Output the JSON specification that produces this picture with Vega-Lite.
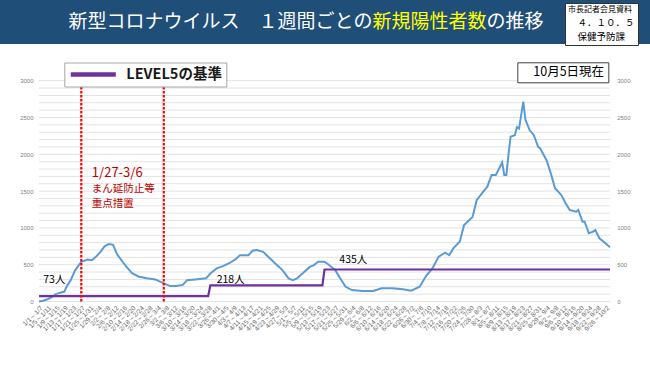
{
  "$schema": "https://vega.github.io/schema/vega-lite/v6.json",
  "padding": 0,
  "background": "white",
  "config": {"font": "Noto Sans CJK JP", "view": {"stroke": null}},
  "columns": 1,
  "align": "none",
  "spacing": 0,
  "concat": [
    {
      "width": 650,
      "height": 44,
      "view": {"fill": "#1F4E79", "stroke": null},
      "layer": [
        {
          "data": {"values": [{"t": "\u200b新型コロナウイルス　１週間ごとの　　　　　　の推移\u200b"}]},
          "mark": {"type": "text", "color": "white", "fontSize": 19, "font": "Noto Sans CJK JP", "baseline": "middle", "align": "center", "dx": -19},
          "encoding": {"text": {"field": "t"}}
        },
        {
          "data": {"values": [{"t": "\u200b　　　　　　　　　　　　　　　　新規陽性者数　　　\u200b"}]},
          "mark": {"type": "text", "color": "#FFFF00", "fontSize": 19, "font": "Noto Sans CJK JP", "baseline": "middle", "align": "center", "dx": -19},
          "encoding": {"text": {"field": "t"}}
        },
        {
          "data": {"values": [{"k": "４．１０．５"}, {"k": "保健予防課"}]},
          "mark": {"type": "point", "opacity": 0},
          "encoding": {
            "shape": {
              "field": "k", "type": "nominal",
              "scale": {"domain": ["４．１０．５", "保健予防課"]},
              "legend": {
                "orient": "none", "legendX": 565, "legendY": 3, "zindex": 1,
                "title": "市長記者会見資料", "titleFontSize": 8, "titleFontWeight": "normal", "titleColor": "#000", "titlePadding": 4,
                "labelFontSize": 9.5, "labelColor": "#000", "labelOffset": 0, "rowPadding": 3,
                "symbolSize": 0, "symbolOpacity": 0, "symbolStrokeWidth": 0,
                "padding": 3, "fillColor": "white", "strokeColor": "#333333"
              }
            }
          }
        }
      ]
    },
    {
      "width": 650,
      "height": 321,
      "resolve": {"scale": {"y": "shared", "color": "independent"}, "axis": {"y": "independent"}, "legend": {"color": "independent"}},
      "layer": [
        {
          "data": {"values": [
            {"g":0},{"g":100},{"g":200},{"g":300},{"g":400},{"g":500},{"g":600},{"g":700},{"g":800},{"g":900},{"g":1000},
            {"g":1100},{"g":1200},{"g":1300},{"g":1400},{"g":1500},{"g":1600},{"g":1700},{"g":1800},{"g":1900},{"g":2000},
            {"g":2100},{"g":2200},{"g":2300},{"g":2400},{"g":2500},{"g":2600},{"g":2700},{"g":2800},{"g":2900},{"g":3000}
          ]},
          "mark": {"type": "rule", "color": "#E3E3E3", "strokeWidth": 1},
          "encoding": {
            "y": {"field": "g", "type": "quantitative", "axis": null},
            "x": {"datum": {"year": 2022, "month": 1, "date": 1, "utc": true}, "type": "temporal"},
            "x2": {"datum": {"year": 2022, "month": 9, "date": 28, "utc": true}}
          }
        },
        {
          "data": {"values": [
            {"date":"2022-01-01","cases":0},{"date":"2022-01-03","cases":10},{"date":"2022-01-05","cases":30},{"date":"2022-01-07","cases":60},
            {"date":"2022-01-09","cases":100},{"date":"2022-01-11","cases":120},{"date":"2022-01-13","cases":135},{"date":"2022-01-14","cases":200},
            {"date":"2022-01-16","cases":290},{"date":"2022-01-18","cases":420},{"date":"2022-01-20","cases":500},{"date":"2022-01-21","cases":540},
            {"date":"2022-01-24","cases":570},{"date":"2022-01-26","cases":560},{"date":"2022-01-28","cases":610},{"date":"2022-01-30","cases":670},
            {"date":"2022-02-01","cases":750},{"date":"2022-02-03","cases":780},{"date":"2022-02-05","cases":770},{"date":"2022-02-07","cases":640},
            {"date":"2022-02-10","cases":520},{"date":"2022-02-12","cases":450},{"date":"2022-02-14","cases":385},{"date":"2022-02-17","cases":340},
            {"date":"2022-02-21","cases":315},{"date":"2022-02-25","cases":300},{"date":"2022-02-28","cases":260},{"date":"2022-03-04","cases":210},
            {"date":"2022-03-07","cases":210},{"date":"2022-03-10","cases":225},{"date":"2022-03-12","cases":290},{"date":"2022-03-16","cases":300},
            {"date":"2022-03-21","cases":315},{"date":"2022-03-23","cases":380},{"date":"2022-03-26","cases":450},{"date":"2022-03-29","cases":480},
            {"date":"2022-04-01","cases":520},{"date":"2022-04-04","cases":575},{"date":"2022-04-06","cases":630},{"date":"2022-04-10","cases":630},
            {"date":"2022-04-12","cases":690},{"date":"2022-04-14","cases":700},{"date":"2022-04-17","cases":675},{"date":"2022-04-20","cases":590},
            {"date":"2022-04-23","cases":510},{"date":"2022-04-26","cases":430},{"date":"2022-04-29","cases":315},{"date":"2022-05-01","cases":290},
            {"date":"2022-05-03","cases":315},{"date":"2022-05-06","cases":390},{"date":"2022-05-09","cases":470},{"date":"2022-05-11","cases":495},
            {"date":"2022-05-13","cases":540},{"date":"2022-05-16","cases":540},{"date":"2022-05-18","cases":500},{"date":"2022-05-21","cases":430},
            {"date":"2022-05-24","cases":290},{"date":"2022-05-26","cases":200},{"date":"2022-05-29","cases":155},{"date":"2022-06-03","cases":143},
            {"date":"2022-06-08","cases":143},{"date":"2022-06-12","cases":180},{"date":"2022-06-17","cases":180},{"date":"2022-06-22","cases":165},
            {"date":"2022-06-26","cases":147},{"date":"2022-06-30","cases":200},{"date":"2022-07-03","cases":345},{"date":"2022-07-06","cases":450},
            {"date":"2022-07-09","cases":610},{"date":"2022-07-12","cases":665},{"date":"2022-07-14","cases":630},{"date":"2022-07-16","cases":725},
            {"date":"2022-07-19","cases":815},{"date":"2022-07-21","cases":1040},{"date":"2022-07-25","cases":1150},{"date":"2022-07-27","cases":1380},
            {"date":"2022-07-30","cases":1490},{"date":"2022-08-01","cases":1560},{"date":"2022-08-03","cases":1720},{"date":"2022-08-05","cases":1720},
            {"date":"2022-08-07","cases":1830},{"date":"2022-08-08","cases":1890},{"date":"2022-08-09","cases":1720},{"date":"2022-08-10","cases":1720},
            {"date":"2022-08-11","cases":2000},{"date":"2022-08-12","cases":2240},{"date":"2022-08-14","cases":2260},{"date":"2022-08-15","cases":2370},
            {"date":"2022-08-16","cases":2350},{"date":"2022-08-18","cases":2715},{"date":"2022-08-19","cases":2470},{"date":"2022-08-21","cases":2330},
            {"date":"2022-08-23","cases":2260},{"date":"2022-08-25","cases":2100},{"date":"2022-08-26","cases":2080},{"date":"2022-08-29","cases":1920},
            {"date":"2022-08-31","cases":1742},{"date":"2022-09-02","cases":1538},{"date":"2022-09-05","cases":1447},{"date":"2022-09-07","cases":1334},
            {"date":"2022-09-09","cases":1243},{"date":"2022-09-12","cases":1220},{"date":"2022-09-13","cases":1243},{"date":"2022-09-15","cases":1084},
            {"date":"2022-09-16","cases":1084},{"date":"2022-09-18","cases":927},{"date":"2022-09-20","cases":950},{"date":"2022-09-21","cases":972},
            {"date":"2022-09-23","cases":859},{"date":"2022-09-25","cases":813},{"date":"2022-09-28","cases":736}
          ]},
          "mark": {"type": "line", "color": "#5B9BD5", "strokeWidth": 2},
          "encoding": {
            "x": {
              "field": "date", "type": "temporal",
              "scale": {"type": "utc", "domain": [1640995200000, 1664323200000], "range": [39, 610]},
              "axis": {
                "title": null, "grid": false, "ticks": false, "domain": false, "offset": -63.5, "tickCount": 200,
                "values": [1640995200000,1641340800000,1641686400000,1642032000000,1642377600000,1642723200000,1643068800000,1643414400000,1643760000000,1644105600000,1644451200000,1644796800000,1645142400000,1645488000000,1645833600000,1646179200000,1646524800000,1646870400000,1647216000000,1647561600000,1647907200000,1648252800000,1648598400000,1648944000000,1649289600000,1649635200000,1649980800000,1650326400000,1650672000000,1651017600000,1651363200000,1651708800000,1652054400000,1652400000000,1652745600000,1653091200000,1653436800000,1653782400000,1654128000000,1654473600000,1654819200000,1655164800000,1655510400000,1655856000000,1656201600000,1656547200000,1656892800000,1657238400000,1657584000000,1657929600000,1658275200000,1658620800000,1658966400000,1659312000000,1659657600000,1660003200000,1660348800000,1660694400000,1661040000000,1661385600000,1661731200000,1662076800000,1662422400000,1662768000000,1663113600000,1663459200000,1663804800000,1664150400000],
                "labelExpr": "utcFormat(datum.value, '%-m/%-d') + '～' + utcFormat((+datum.value) + 518400000, '%-m/%-d')",
                "labelAngle": -45, "labelFontSize": 6.5, "labelColor": "#666666", "labelFont": "Liberation Sans",
                "labelOverlap": false, "labelFlush": false, "labelPadding": 3
              }
            },
            "y": {
              "field": "cases", "type": "quantitative",
              "scale": {"domain": [0, 3000], "range": [257.5, 36.7]},
              "axis": {
                "orient": "left", "offset": -33,
                "values": [0,500,1000,1500,2000,2500,3000], "format": "d",
                "grid": false, "ticks": false, "domain": false,
                "labelFontSize": 6, "labelColor": "#7F7F7F", "labelFont": "Liberation Sans", "labelPadding": 0,
                "title": null
              }
            }
          }
        },
        {
          "data": {"values": [
            {"date":"2022-01-01","level":73,"series":"LEVEL5の基準"},
            {"date":"2022-03-22","level":73,"series":"LEVEL5の基準"},
            {"date":"2022-03-23","level":218,"series":"LEVEL5の基準"},
            {"date":"2022-05-15","level":218,"series":"LEVEL5の基準"},
            {"date":"2022-05-16","level":435,"series":"LEVEL5の基準"},
            {"date":"2022-09-28","level":435,"series":"LEVEL5の基準"}
          ]},
          "mark": {"type": "line", "strokeWidth": 2.2},
          "encoding": {
            "x": {"field": "date", "type": "temporal"},
            "y": {
              "field": "level", "type": "quantitative",
              "axis": {
                "orient": "right", "offset": -33.3, "values": [0,500,1000,1500,2000,2500,3000], "format": "d",
                "grid": false, "ticks": false, "domain": false,
                "labelFontSize": 6, "labelColor": "#7F7F7F", "labelFont": "Liberation Sans", "labelPadding": 0, "title": null
              }
            },
            "color": {
              "field": "series", "type": "nominal",
              "scale": {"range": ["#7030A0"]},
              "legend": {
                "orient": "none", "legendX": 64.3, "legendY": 18.5, "zindex": 1, "title": null,
                "symbolType": "stroke", "symbolSize": 2025, "symbolStrokeWidth": 4.5, "clipHeight": 16,
                "labelFontSize": 14.5, "labelFontWeight": "bold", "labelColor": "#1a1a1a", "labelOffset": 8,
                "padding": 4, "fillColor": "white", "strokeColor": "#A6A6A6"
              }
            }
          }
        },
        {
          "data": {"values": [{"date": "2022-01-21"}, {"date": "2022-03-01"}]},
          "mark": {"type": "rule", "color": "#FF0000", "strokeWidth": 2.2, "strokeDash": [2.5, 1.5]},
          "encoding": {
            "x": {"field": "date", "type": "temporal"},
            "y": {"datum": 0, "type": "quantitative", "axis": null},
            "y2": {"datum": 3000}
          }
        },
        {
          "data": {"values": [
            {"date": "2022-01-03", "value": 290, "label": "73人"},
            {"date": "2022-03-26", "value": 290, "label": "218人"},
            {"date": "2022-05-23", "value": 564, "label": "435人"}
          ]},
          "mark": {"type": "text", "align": "left", "baseline": "middle", "fontSize": 10.5, "color": "#000000"},
          "encoding": {
            "x": {"field": "date", "type": "temporal"},
            "y": {"field": "value", "type": "quantitative", "axis": null},
            "text": {"field": "label"}
          }
        },
        {
          "data": {"values": [{"date": "2022-01-26", "value": 1740, "label": "1/27-3/6"}]},
          "mark": {"type": "text", "align": "left", "baseline": "middle", "fontSize": 13, "color": "#C00000"},
          "encoding": {
            "x": {"field": "date", "type": "temporal"},
            "y": {"field": "value", "type": "quantitative", "axis": null},
            "text": {"field": "label"}
          }
        },
        {
          "data": {"values": [
            {"date": "2022-01-26", "value": 1525, "label": "まん延防止等"},
            {"date": "2022-01-26", "value": 1330, "label": "重点措置"}
          ]},
          "mark": {"type": "text", "align": "left", "baseline": "middle", "fontSize": 10.5, "color": "#C00000"},
          "encoding": {
            "x": {"field": "date", "type": "temporal"},
            "y": {"field": "value", "type": "quantitative", "axis": null},
            "text": {"field": "label"}
          }
        },
        {
          "data": {"values": [{"asof": "10月5日現在"}]},
          "mark": {"type": "point", "opacity": 0},
          "encoding": {
            "color": {
              "field": "asof", "type": "nominal",
              "scale": {"range": ["#ffffff"]},
              "legend": {
                "orient": "none", "legendX": 517.3, "legendY": 18.3, "zindex": 1, "title": null,
                "labelFontSize": 12.5, "labelColor": "#000000", "labelOffset": 0,
                "symbolSize": 0, "symbolOpacity": 0, "symbolStrokeWidth": 0,
                "padding": 3.5, "fillColor": "white", "strokeColor": "#404040"
              }
            }
          }
        }
      ]
    }
  ]
}
